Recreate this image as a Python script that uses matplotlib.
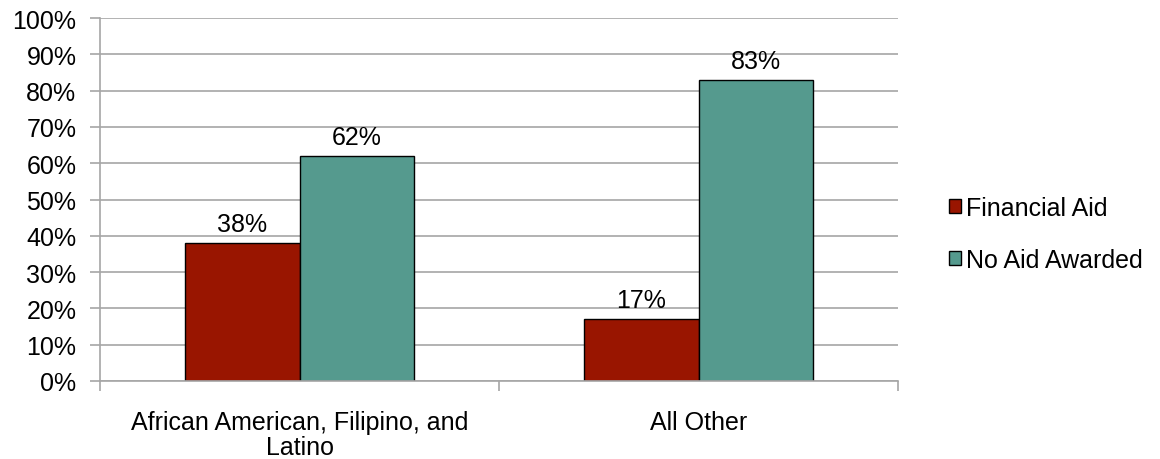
import matplotlib.pyplot as plt
import numpy as np
from matplotlib.ticker import MultipleLocator, FuncFormatter

plt.rcParams['font.family'] = ['Liberation Sans', 'DejaVu Sans']

categories = ["African American, Filipino, and\nLatino", "All Other"]
financial_aid = [38, 17]
no_aid = [62, 83]
series_names = ["Financial Aid", "No Aid Awarded"]
colors = ["#991500", "#559A8E"]

x = np.arange(len(categories))
width = 0.288
fs = 18

fig = plt.figure(figsize=(11.6, 4.6), dpi=100)
ax = fig.add_axes([0.0862, 0.1696, 0.688, 0.789])

grid_color = "#a6a6a6"
ax.set_axisbelow(True)
ax.yaxis.grid(True, color=grid_color, linewidth=1.2)

for i, (vals, name) in enumerate(zip([financial_aid, no_aid], series_names)):
    pos = x - width / 2 + i * width
    bars = ax.bar(pos, vals, width, color=colors[i], edgecolor="black",
                  linewidth=1.0, label=name)
    for b, v in zip(bars, vals):
        ax.annotate(f"{v}%", (b.get_x() + b.get_width() / 2, v),
                    xytext=(0, 5), textcoords="offset points",
                    ha="center", va="bottom", fontsize=fs)

ax.set_xlim(-0.5, 1.5)
ax.set_ylim(0, 100)
ax.yaxis.set_major_locator(MultipleLocator(10))
ax.yaxis.set_major_formatter(FuncFormatter(lambda v, p: f"{v:.0f}%"))

ax.set_xticks([-0.5, 0.5, 1.5])
ax.set_xticklabels([])
ax.set_xticks(x, minor=True)
ax.set_xticklabels(categories, minor=True, fontsize=fs, linespacing=1.05)
ax.tick_params(axis="x", which="minor", length=0, pad=21)
ax.tick_params(axis="x", which="major", length=7, color=grid_color, width=1.2)
ax.tick_params(axis="y", length=7, color=grid_color, width=1.2, labelsize=fs, pad=10)

for s in ["top", "right"]:
    ax.spines[s].set_visible(False)
for s in ["left", "bottom"]:
    ax.spines[s].set_color(grid_color)
    ax.spines[s].set_linewidth(1.2)

ax.legend(loc="center left", bbox_to_anchor=(1.035, 0.405), frameon=False,
          fontsize=fs, handlelength=0.5, handleheight=0.5, handletextpad=0.2,
          labelspacing=1.1)

fig.savefig("out.png", dpi=100)
